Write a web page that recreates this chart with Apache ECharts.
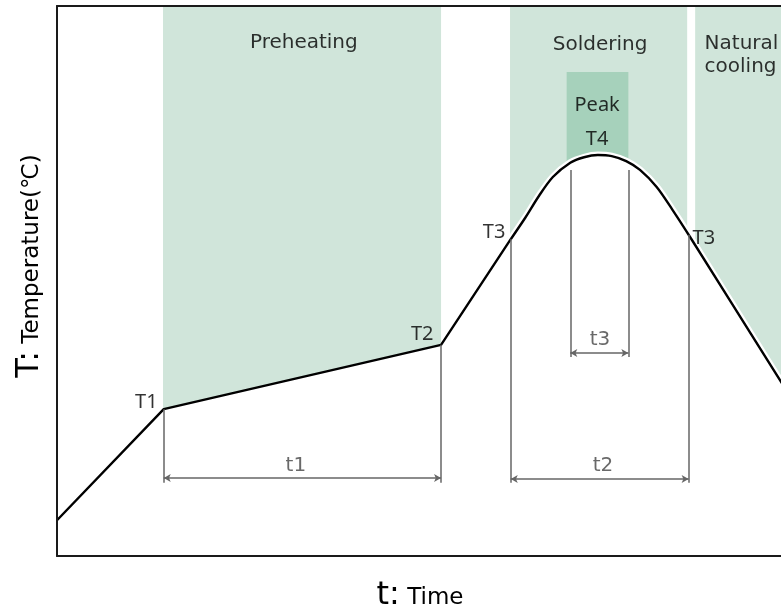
<!DOCTYPE html>
<html>
<head>
<meta charset="utf-8">
<script src="https://cdn.jsdelivr.net/npm/echarts@6/dist/echarts.min.js"></script>
<style>
html,body{margin:0;padding:0;background:#fff;}
#c{width:781px;height:615px;}
</style>
</head>
<body>
<div id="c"></div>
<script>
// ---- data (axis units: time 0..100, temperature 0..100) ----
const rampTime = [0, 14.7, 52.9, 62.5];
const rampTemp = [6.5, 26.7, 38.4, 57.6];
const peakTime = [62.5, 64.5, 66.4, 68.3, 70.7, 72.6, 74.5, 76.4, 78.4, 80.3, 82.6, 84.8, 87.2, 100];
const peakTemp = [57.6, 61.5, 65.5, 68.9, 71.5, 72.5, 72.9, 72.7, 71.8, 70.2, 67.1, 62.9, 58.0, 31.1];

const zoneNames = ['Preheating', 'Soldering', 'Natural\ncooling'];
const zoneFrom = [14.6, 62.4, 87.9];
const zoneTo = [52.9, 86.8, 100];
const zoneLabelAt = [[34.0, 93.3], [74.8, 93.0], [89.2, 91.0]];

const peakBoxTime = [70.2, 78.7];
const peakBoxTemp = [60, 88];

const pointNames = ['T1', 'T2', 'T3', 'T3', 'Peak', 'T4'];
const pointLabelAt = [[12.3, 28.0], [50.3, 40.4], [60.2, 58.9], [89.1, 57.8], [74.4, 82.0], [74.4, 75.8]];

const guideTime = [14.7, 52.9, 62.5, 87.0, 70.7, 78.7];
const guideTop = [26.7, 38.4, 57.6, 58.4, 70.2, 70.2];
const guideBottom = [13.3, 13.3, 13.3, 13.3, 36.2, 36.2];

const spanNames = ['t1', 't2', 't3'];
const spanFrom = [14.7, 62.5, 70.7];
const spanTo = [52.9, 87.0, 78.7];
const spanAt = [14.2, 14.0, 36.9];
const spanLabelAt = [[32.9, 16.4], [75.2, 16.4], [74.8, 39.3]];

// ---- build ----
const zip = (xs, ys) => xs.map((x, i) => [x, ys[i]]);
const ramp = zip(rampTime, rampTemp);
const peak = zip(peakTime, peakTemp);
// mask under the ramp overlaps the first stretch of the peak part to avoid a seam
const rampMask = ramp.concat(peak.slice(1, 2));

const GREEN = '#d0e5da';
const GREEN_DARK = '#a6d1bb';
const GUIDE = '#666666';

const markAreaData = zoneFrom.map((f, i) => [
  { coord: [f, 0], itemStyle: { color: GREEN } },
  { coord: [zoneTo[i], 100] }
]);
markAreaData.push([
  { coord: [peakBoxTime[0], peakBoxTemp[0]], itemStyle: { color: GREEN_DARK } },
  { coord: [peakBoxTime[1], peakBoxTemp[1]] }
]);

const guideLines = guideTime.map((t, i) => [{ coord: [t, guideTop[i]] }, { coord: [t, guideBottom[i]] }]);
const spanLines = spanFrom.map((f, i) => [{ coord: [f, spanAt[i]] }, { coord: [spanTo[i], spanAt[i]] }]);

const phaseStyle = { fontFamily: 'DejaVu Sans', fontSize: 20, color: '#000', lineHeight: 23 };
const pointStyle = { fontFamily: 'Noto Sans', fontSize: 20, color: '#000' };
const spanStyle = { fontFamily: 'DejaVu Sans', fontSize: 20, fontWeight: 'normal', color: '#444' };

const labelItems = [];
zoneNames.forEach((n, i) => {
  const isLeft = n.indexOf('\n') >= 0;
  labelItems.push({ value: zoneLabelAt[i], name: n,
    label: Object.assign({ position: isLeft ? 'right' : 'inside', distance: 0, align: isLeft ? 'left' : 'center' }, phaseStyle) });
});
pointNames.forEach((n, i) => labelItems.push({ value: pointLabelAt[i], name: n, label: Object.assign({ position: 'inside' }, pointStyle) }));
spanNames.forEach((n, i) => labelItems.push({ value: spanLabelAt[i], name: n, label: Object.assign({ position: 'inside' }, spanStyle) }));

const axisBase = {
  type: 'value', min: 0, max: 100,
  axisTick: { show: false }, axisLabel: { show: false }, splitLine: { show: false },
  axisLine: { show: true, onZero: false, lineStyle: { color: '#1a1a1a', width: 2 } },
  z: 10
};

const titleRich = {
  a: { fontFamily: 'DejaVu Sans', fontSize: 32, color: '#000', verticalAlign: 'bottom' },
  b: { fontFamily: 'DejaVu Sans', fontSize: 23, color: '#000', verticalAlign: 'bottom', padding: [0, 0, 2, 0] }
};

const chart = echarts.init(document.getElementById('c'), null, { renderer: 'canvas' });
chart.setOption({
  animation: false,
  backgroundColor: '#fff',
  grid: { left: 57, top: 6, right: -2, bottom: 59, show: false, containLabel: false, outerBoundsMode: 'none' },
  xAxis: [
    Object.assign({}, axisBase, {
      position: 'bottom',
      name: '{a|t:}{b| Time}', nameLocation: 'middle', nameGap: 24,
      nameTextStyle: { rich: titleRich }
    }),
    Object.assign({}, axisBase, { position: 'top' })
  ],
  yAxis: Object.assign({}, axisBase, {
    name: '{a|T:}{b| Temperature(℃)}', nameLocation: 'middle', nameGap: 11, nameRotate: 90,
    nameTextStyle: { padding: [0, 0, 0, 30], rich: titleRich }
  }),
  series: [
    { name: 'zones', type: 'line', data: [], z: 1, silent: true,
      markArea: { silent: true, z: 1, data: markAreaData } },
    { name: 'mask-ramp', type: 'line', data: rampMask, symbol: 'none', z: 2, silent: true,
      lineStyle: { color: '#fff', width: 1 }, areaStyle: { color: '#fff', opacity: 1 } },
    { name: 'mask-peak', type: 'line', data: peak, symbol: 'none', smooth: 0.3, z: 2, silent: true,
      lineStyle: { color: '#fff', width: 7 }, areaStyle: { color: '#fff', opacity: 1 } },
    { name: 'curve-ramp', type: 'line', data: ramp, symbol: 'none', z: 3, silent: true,
      lineStyle: { color: '#000', width: 2.4 } },
    { name: 'curve-peak', type: 'line', data: peak, symbol: 'none', smooth: 0.3, z: 3, silent: true,
      lineStyle: { color: '#000', width: 2.4 } },
    { name: 'guides', type: 'line', data: [], z: 4, silent: true,
      markLine: { silent: true, symbol: ['none', 'none'], label: { show: false },
        lineStyle: { color: GUIDE, width: 1.5, type: 'solid' }, data: guideLines } },
    { name: 'spans', type: 'line', data: [], z: 4, silent: true,
      markLine: { silent: true, symbol: ['arrow', 'arrow'], symbolSize: [6, 7], label: { show: false },
        lineStyle: { color: GUIDE, width: 1.5, type: 'solid' }, data: spanLines } },
    { name: 'labels', type: 'scatter', data: labelItems, symbolSize: 0, z: 6, silent: true,
      label: { show: true, formatter: p => p.name } }
  ]
});
</script>
</body>
</html>
